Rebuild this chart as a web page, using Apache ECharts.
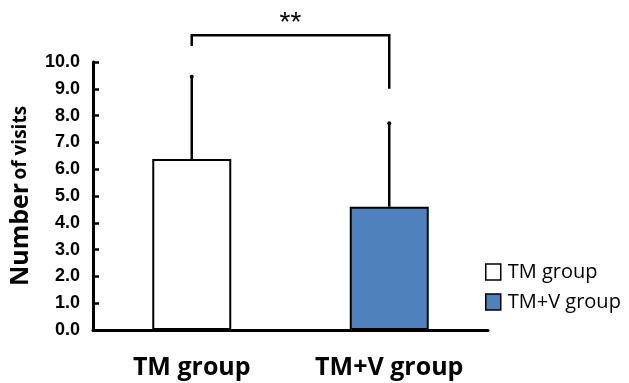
<!DOCTYPE html>
<html><head><meta charset="utf-8">
<script src="https://cdn.jsdelivr.net/npm/echarts@6/dist/echarts.min.js"></script>
<style>html,body{margin:0;padding:0;background:#fff}#c{width:629px;height:383px}</style>
</head><body><div id="c"></div>
<script>
var categories = ['TM group', 'TM+V group'];
var means = [6.38, 4.60];
var errUpper = [3.07, 3.11];
var yTicks = [0, 10, 1];
var bracket = {y: 11.0, leftEnd: 10.6, rightEnd: 9.0, starsY: 11.45, label: '**'};

var chart = echarts.init(document.getElementById('c'));
var colors = ['#ffffff', '#4f81bd'];
var barSeries = categories.map(function (name, i) {
  return {
    name: name, type: 'bar', barWidth: '40%', barGap: '-100%',
    data: categories.map(function (_, j) { return j === i ? means[j] : '-'; }),
    itemStyle: {color: colors[i], borderColor: '#000', borderWidth: 2},
    z: 2
  };
});
var errData = means.map(function (m, i) { return [i, m, m + errUpper[i]]; });
var option = {
  animation: false,
  grid: {left: 92, right: 141, top: 62, bottom: 53},
  legend: {
    orient: 'vertical', left: 480, top: 257, itemWidth: 15, itemHeight: 16, itemGap: 10,
    icon: 'rect', data: categories,
    textStyle: {fontFamily: 'Open Sans', fontSize: 20, color: '#000', padding: [0, 0, 0, 2]},
    itemStyle: {borderColor: '#000', borderWidth: 1.5}
  },
  xAxis: {
    type: 'category', data: categories,
    axisLine: {lineStyle: {color: '#000', width: 3}},
    axisTick: {show: false},
    axisLabel: {fontFamily: 'Open Sans', fontWeight: 'bold', fontSize: 25, color: '#000', margin: 25}
  },
  yAxis: {
    type: 'value', min: yTicks[0], max: yTicks[1], interval: yTicks[2],
    splitLine: {show: false},
    axisLine: {show: true, lineStyle: {color: '#000', width: 3}},
    axisTick: {show: true, inside: true, length: 6, lineStyle: {color: '#000', width: 2.5}},
    axisLabel: {fontFamily: 'Liberation Sans', fontWeight: 'bold', fontSize: 18, color: '#000', margin: 13,
      formatter: function (v) { return v.toFixed(1); }},
    name: '{a|Number} {b|of visits}', nameLocation: 'middle', nameRotate: 90, nameGap: 60,
    nameTextStyle: {rich: {
      a: {fontFamily: 'Open Sans', fontWeight: 'bold', fontSize: 25, color: '#000'},
      b: {fontFamily: 'Open Sans', fontWeight: 'bold', fontSize: 19, color: '#000'}
    }}
  },
  series: barSeries.concat([
    {
      type: 'custom', data: errData, z: 3, clip: false,
      renderItem: function (params, api) {
        var p0 = api.coord([api.value(0), api.value(1)]);
        var p1 = api.coord([api.value(0), api.value(2)]);
        return {type: 'group', children: [
          {type: 'line', shape: {x1: p0[0], y1: p0[1], x2: p1[0], y2: p1[1]}, style: {stroke: '#000', lineWidth: 2.5}},
          {type: 'circle', shape: {cx: p1[0], cy: p1[1], r: 2}, style: {fill: '#000'}}
        ]};
      }
    },
    {
      type: 'custom', data: [[0, 1]], z: 3, clip: false,
      renderItem: function (params, api) {
        var a = api.coord([0, bracket.leftEnd]);
        var b = api.coord([0, bracket.y]);
        var c = api.coord([1, bracket.y]);
        var d = api.coord([1, bracket.rightEnd]);
        var s = api.coord([0, bracket.starsY]);
        return {type: 'group', children: [
          {type: 'polyline', shape: {points: [a, b, c, d]}, style: {stroke: '#000', lineWidth: 2.5, fill: null}},
          {type: 'text', style: {x: (a[0] + d[0]) / 2, y: s[1], text: bracket.label, align: 'center', verticalAlign: 'middle',
            font: '28px "Liberation Sans"', fill: '#000'}}
        ]};
      }
    }
  ])
};
chart.setOption(option);
</script></body></html>
